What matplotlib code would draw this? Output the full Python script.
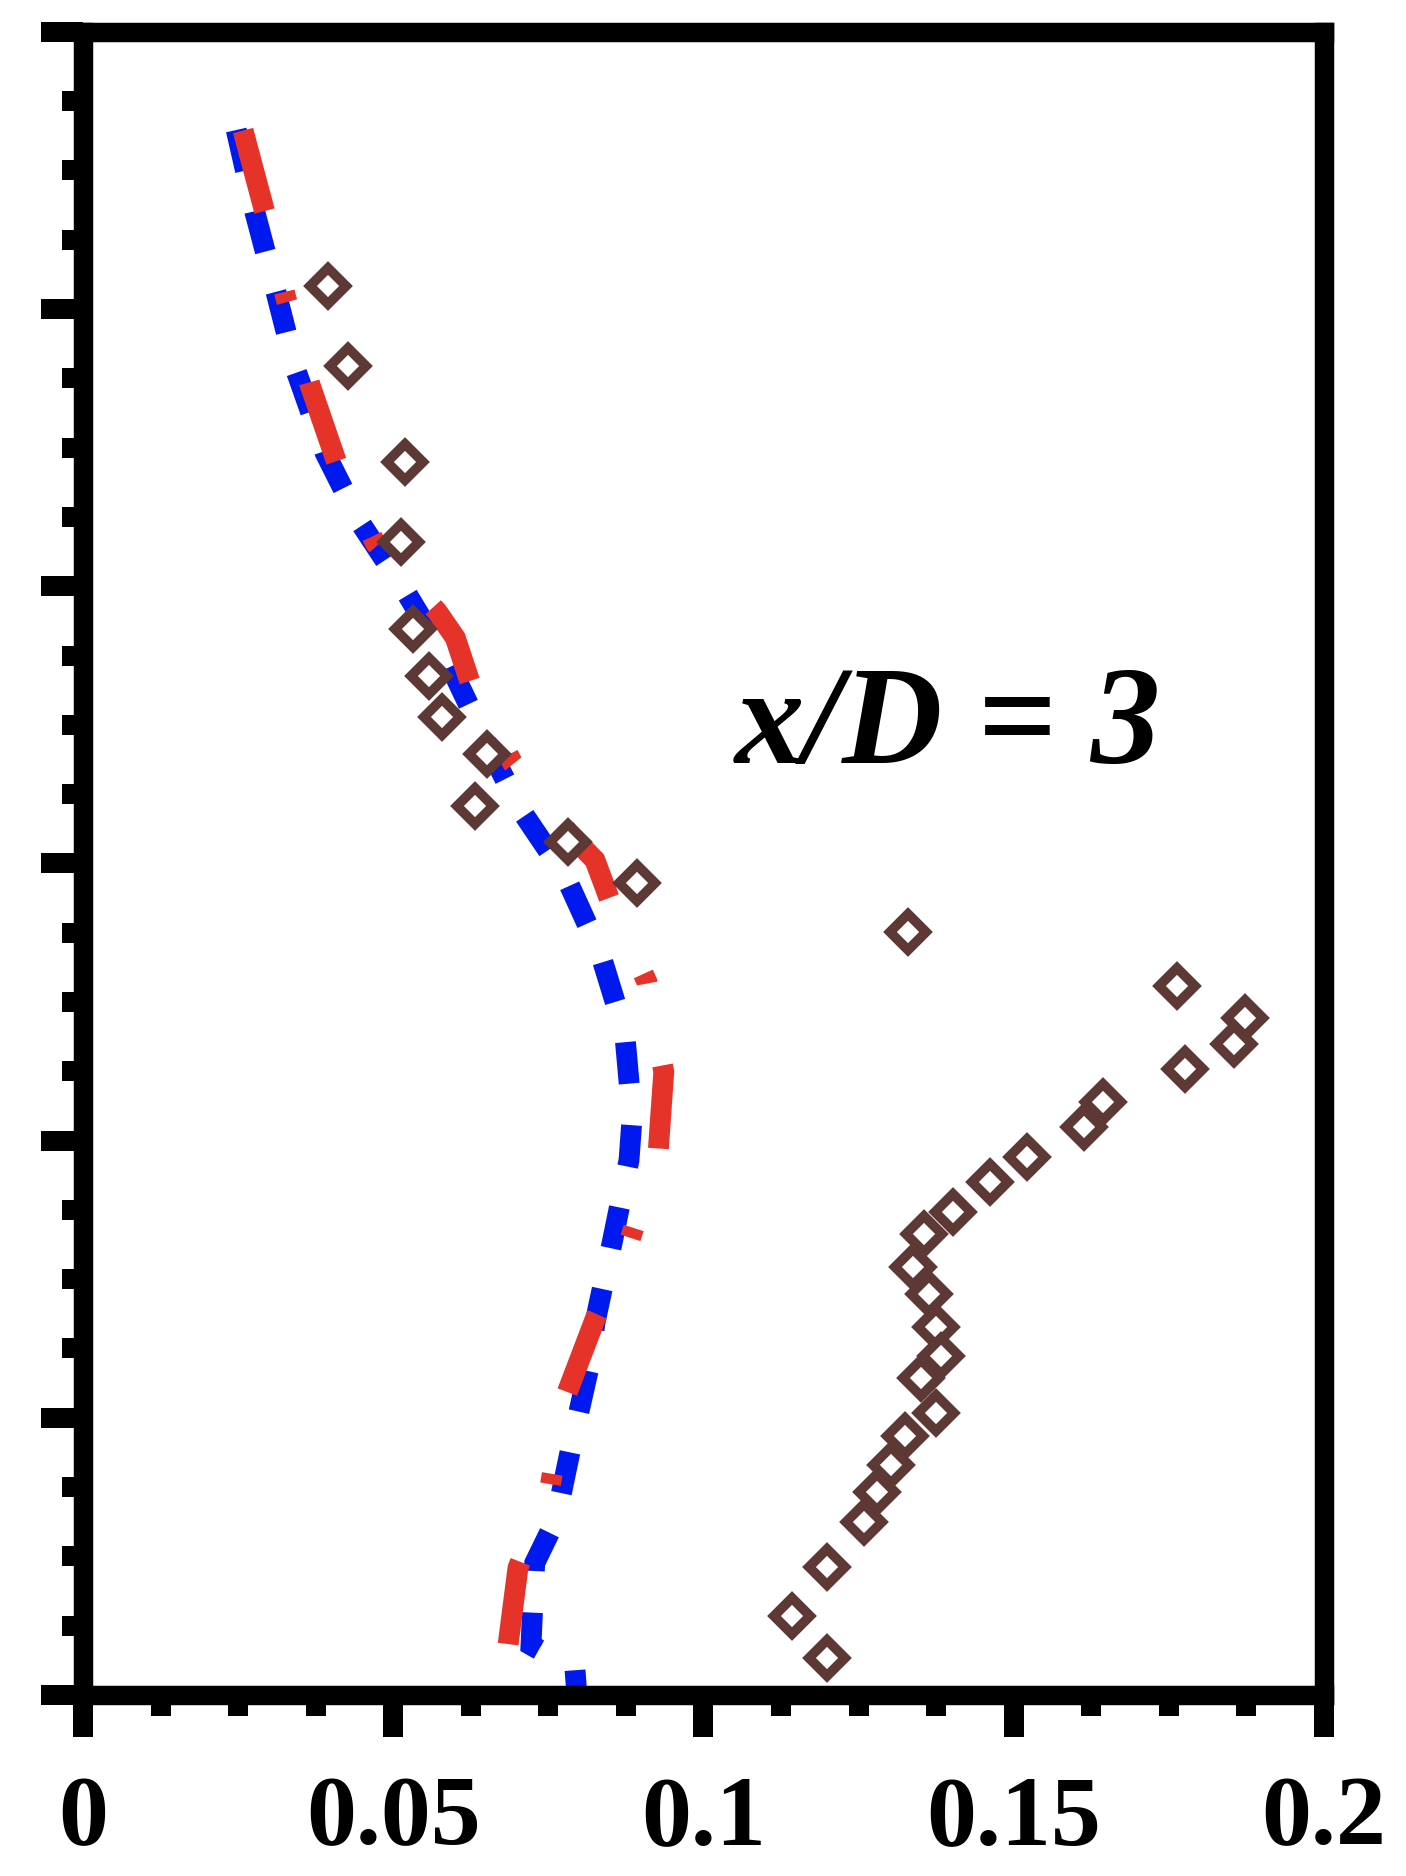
import matplotlib
matplotlib.use('Agg')
import matplotlib.pyplot as plt
from matplotlib.ticker import MultipleLocator, FixedLocator
from matplotlib.markers import MarkerStyle
import numpy as np

# blue dashed curve
blue_x = [0.0247, 0.0277, 0.0311, 0.0343, 0.0390, 0.0446, 0.0519, 0.0591, 0.0656,
          0.0704, 0.0777, 0.0833, 0.0873, 0.0885, 0.0880, 0.0853, 0.0825, 0.0817,
          0.0788, 0.0762, 0.0728, 0.0725, 0.0722, 0.0793, 0.0796]
blue_y = [2.823, 2.675, 2.531, 2.390, 2.241, 2.116, 1.992, 1.858, 1.705,
          1.599, 1.478, 1.340, 1.194, 1.043, 0.965, 0.817, 0.671, 0.599,
          0.455, 0.316, 0.238, 0.164, 0.090, 0.045, 0.0]

# red dash-dot curve
red_x = [0.0258, 0.0293, 0.0327, 0.0366, 0.0409, 0.0471, 0.0571, 0.0600, 0.0624,
         0.0693, 0.0785, 0.0825, 0.0849, 0.0909, 0.0936, 0.0927, 0.0882, 0.0825,
         0.0777, 0.0753, 0.0701, 0.0685, 0.0691]
red_y = [2.822, 2.675, 2.520, 2.363, 2.223, 2.078, 1.954, 1.907, 1.826,
         1.680, 1.552, 1.506, 1.434, 1.286, 1.124, 0.980, 0.823, 0.677,
         0.536, 0.377, 0.229, 0.090, 0.072]

# experiment (open diamonds)
exp_x = [0.0395, 0.0427, 0.0519, 0.0512, 0.0532, 0.0558, 0.0579, 0.0651, 0.0632,
         0.0782, 0.0893, 0.1330, 0.1763, 0.1873, 0.1855, 0.1776, 0.1644, 0.1613,
         0.1521, 0.1462, 0.1402, 0.1355, 0.1338, 0.1363, 0.1375, 0.1383, 0.1351,
         0.1375, 0.1325, 0.1302, 0.1280, 0.1259, 0.1199, 0.1143, 0.1199]
exp_y = [2.542, 2.398, 2.224, 2.080, 1.923, 1.838, 1.764, 1.698, 1.604,
         1.539, 1.465, 1.377, 1.279, 1.221, 1.174, 1.129, 1.070, 1.025,
         0.971, 0.925, 0.871, 0.832, 0.772, 0.723, 0.664, 0.612, 0.572,
         0.509, 0.467, 0.415, 0.366, 0.312, 0.231, 0.143, 0.067]

xticks = [0, 0.05, 0.1, 0.15, 0.2]
xtick_labels = ['0', '0.05', '0.1', '0.15', '0.2']

fig = plt.figure(figsize=(14.06, 18.76), dpi=100)
ax = fig.add_axes([0.0590, 0.0965, 0.8827, 0.8865])

lw = 15
ax.plot(blue_x, blue_y, color='#0019EE', lw=lw, dashes=(2, 2),
        dash_joinstyle='miter', zorder=2)
ax.plot(red_x, red_y, color='#E5332A', lw=lw, dashes=(4, 4, 0.5, 4),
        dash_joinstyle='miter', zorder=3)
ax.plot(exp_x, exp_y, linestyle='none', marker=MarkerStyle('D', joinstyle='miter'),
        markersize=18.5, markerfacecolor='white', markeredgecolor='#5E3834',
        markeredgewidth=7, zorder=4)

ax.set_xlim(0, 0.2)
ax.set_ylim(0, 3)

ax.xaxis.set_major_locator(FixedLocator(xticks))
ax.set_xticklabels(xtick_labels)
ax.xaxis.set_minor_locator(MultipleLocator(0.0125))
ax.yaxis.set_major_locator(MultipleLocator(0.5))
ax.yaxis.set_minor_locator(MultipleLocator(0.125))
ax.set_yticklabels([])

ax.tick_params(which='major', direction='out', length=30, width=14.4,
               top=False, right=False, pad=28)
ax.tick_params(which='minor', direction='out', length=15, width=14.4,
               top=False, right=False)
for lab in ax.get_xticklabels():
    lab.set_fontfamily('Liberation Serif')
    lab.set_fontweight('bold')
    lab.set_fontsize(72)

for sp in ax.spines.values():
    sp.set_linewidth(14)

ax.text(0.697, 0.5604, 'x/D = 3', transform=ax.transAxes, ha='center',
        va='baseline', fontsize=100, fontfamily='Liberation Serif',
        fontweight='bold', fontstyle='italic')

fig.savefig('out.png', dpi=100)
